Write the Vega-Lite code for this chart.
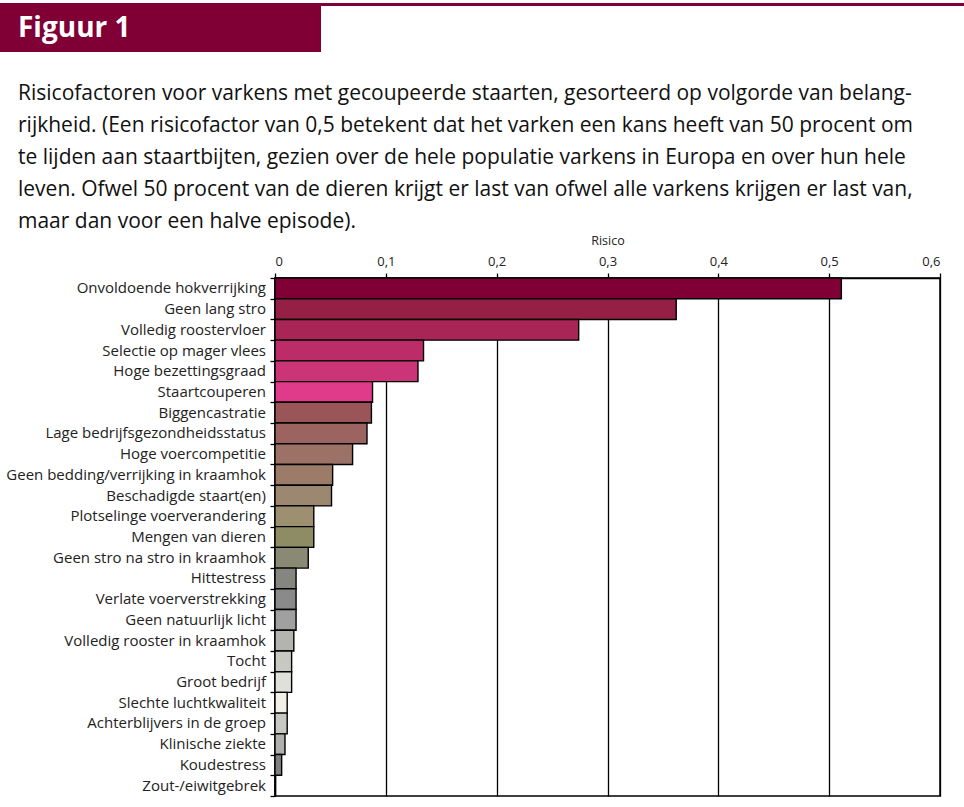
{
  "$schema": "https://vega.github.io/schema/vega-lite/v6.json",
  "background": "white",
  "padding": {"left": 0, "top": 3, "right": 0, "bottom": 0},
  "config": {
    "font": "Open Sans",
    "view": {"stroke": null}
  },
  "datasets": {
    "risico": [
      {"factor": "Onvoldoende hokverrijking", "risico": 0.511},
      {"factor": "Geen lang stro", "risico": 0.362},
      {"factor": "Volledig roostervloer", "risico": 0.274},
      {"factor": "Selectie op mager vlees", "risico": 0.134},
      {"factor": "Hoge bezettingsgraad", "risico": 0.129},
      {"factor": "Staartcouperen", "risico": 0.088},
      {"factor": "Biggencastratie", "risico": 0.087},
      {"factor": "Lage bedrijfsgezondheidsstatus", "risico": 0.083},
      {"factor": "Hoge voercompetitie", "risico": 0.07},
      {"factor": "Geen bedding/verrijking in kraamhok", "risico": 0.052},
      {"factor": "Beschadigde staart(en)", "risico": 0.051},
      {"factor": "Plotselinge voerverandering", "risico": 0.035},
      {"factor": "Mengen van dieren", "risico": 0.035},
      {"factor": "Geen stro na stro in kraamhok", "risico": 0.03},
      {"factor": "Hittestress", "risico": 0.019},
      {"factor": "Verlate voerverstrekking", "risico": 0.019},
      {"factor": "Geen natuurlijk licht", "risico": 0.019},
      {"factor": "Volledig rooster in kraamhok", "risico": 0.017},
      {"factor": "Tocht", "risico": 0.015},
      {"factor": "Groot bedrijf", "risico": 0.015},
      {"factor": "Slechte luchtkwaliteit", "risico": 0.011},
      {"factor": "Achterblijvers in de groep", "risico": 0.011},
      {"factor": "Klinische ziekte", "risico": 0.009},
      {"factor": "Koudestress", "risico": 0.006},
      {"factor": "Zout-/eiwitgebrek", "risico": 0}
    ]
  },
  "spacing": 31,
  "vconcat": [
    {
      "spacing": 0,
      "hconcat": [
        {
          "width": 321,
          "height": 49,
          "view": {"fill": "#800035", "stroke": null},
          "title": {
            "text": "Figuur 1",
            "anchor": "start",
            "color": "white",
            "font": "Open Sans",
            "fontSize": 28,
            "fontWeight": "bold",
            "offset": -40,
            "dx": 18
          },
          "data": {"values": []},
          "mark": {"type": "text"},
          "encoding": {}
        },
        {
          "width": 643,
          "height": 3,
          "view": {"fill": "#800035", "stroke": null},
          "data": {"values": []},
          "mark": {"type": "text"},
          "encoding": {}
        }
      ]
    },
    {
      "title": {
        "text": [
          "Risicofactoren voor varkens met gecoupeerde staarten, gesorteerd op volgorde van belang-",
          "rijkheid. (Een risicofactor van 0,5 betekent dat het varken een kans heeft van 50 procent om",
          "te lijden aan staartbijten, gezien over de hele populatie varkens in Europa en over hun hele",
          "leven. Ofwel 50 procent van de dieren krijgt er last van ofwel alle varkens krijgen er last van,",
          "maar dan voor een halve episode)."
        ],
        "anchor": "start",
        "frame": "bounds",
        "font": "Open Sans",
        "fontSize": 21,
        "fontWeight": "normal",
        "color": "#111111",
        "lineHeight": 32,
        "offset": 1,
        "dx": 18
      },
      "spacing": 2,
      "hconcat": [
        {
          "width": 266,
          "height": 518,
          "data": {"name": "risico"},
          "mark": {
            "type": "text",
            "align": "right",
            "baseline": "middle",
            "font": "Open Sans",
            "fontSize": 15,
            "color": "#222222"
          },
          "encoding": {
            "y": {
              "field": "factor",
              "type": "nominal",
              "sort": null,
              "scale": {"paddingInner": 0, "paddingOuter": 0},
              "axis": null
            },
            "x": {
              "datum": 1,
              "type": "quantitative",
              "scale": {"domain": [0, 1], "nice": false},
              "axis": null
            },
            "text": {"field": "factor"}
          }
        },
        {
          "width": 665,
          "height": 518,
          "view": {"stroke": "black", "strokeWidth": 1.5},
          "data": {"name": "risico"},
          "mark": {"type": "bar", "stroke": "black", "strokeWidth": 1.4},
          "encoding": {
            "y": {
              "field": "factor",
              "type": "nominal",
              "sort": null,
              "scale": {"paddingInner": 0, "paddingOuter": 0},
              "axis": {
                "title": null,
                "labels": false,
                "domainColor": "black",
                "domainWidth": 1.5,
                "tickColor": "black",
                "tickWidth": 1.3,
                "tickSize": 5,
                "tickBand": "extent",
                "minExtent": 0
              }
            },
            "x": {
              "field": "risico",
              "type": "quantitative",
              "scale": {"domain": [0, 0.6], "nice": false},
              "axis": {
                "orient": "top",
                "title": "Risico",
                "titleFont": "Open Sans",
                "titleFontSize": 12.5,
                "titleFontWeight": "normal",
                "titleColor": "#222222",
                "titlePadding": 8,
                "values": [0, 0.1, 0.2, 0.3, 0.4, 0.5, 0.6],
                "labelExpr": "replace(format(datum.value, '.1~f'), '.', ',')",
                "labelFont": "Open Sans",
                "labelFontSize": 13,
                "labelColor": "#222222",
                "labelPadding": 5,
                "domainColor": "black",
                "domainWidth": 1.5,
                "tickColor": "black",
                "tickWidth": 1.3,
                "tickSize": 5,
                "grid": true,
                "gridColor": "black",
                "gridWidth": 1.3,
                "gridOpacity": 1
              }
            },
            "color": {
              "field": "factor",
              "type": "nominal",
              "legend": null,
              "scale": {
                "domain": [
                  "Onvoldoende hokverrijking", "Geen lang stro", "Volledig roostervloer", "Selectie op mager vlees",
                  "Hoge bezettingsgraad", "Staartcouperen", "Biggencastratie", "Lage bedrijfsgezondheidsstatus",
                  "Hoge voercompetitie", "Geen bedding/verrijking in kraamhok", "Beschadigde staart(en)",
                  "Plotselinge voerverandering", "Mengen van dieren", "Geen stro na stro in kraamhok", "Hittestress",
                  "Verlate voerverstrekking", "Geen natuurlijk licht", "Volledig rooster in kraamhok", "Tocht",
                  "Groot bedrijf", "Slechte luchtkwaliteit", "Achterblijvers in de groep", "Klinische ziekte",
                  "Koudestress", "Zout-/eiwitgebrek"
                ],
                "range": [
                  "#800035", "#962045", "#A82655", "#BC2C69", "#CC3478", "#E03A8B", "#9A5558", "#9C6460",
                  "#9C7266", "#9C7C68", "#9C8870", "#9C9070", "#8E8C65", "#8A8A74", "#868680", "#8A8A8A",
                  "#A0A0A0", "#B3B3B0", "#C8C8C2", "#E0E0DA", "#F0F0E6", "#C8C8C2", "#B0B0AE", "#808080",
                  "#808080"
                ]
              }
            }
          }
        }
      ]
    }
  ]
}
